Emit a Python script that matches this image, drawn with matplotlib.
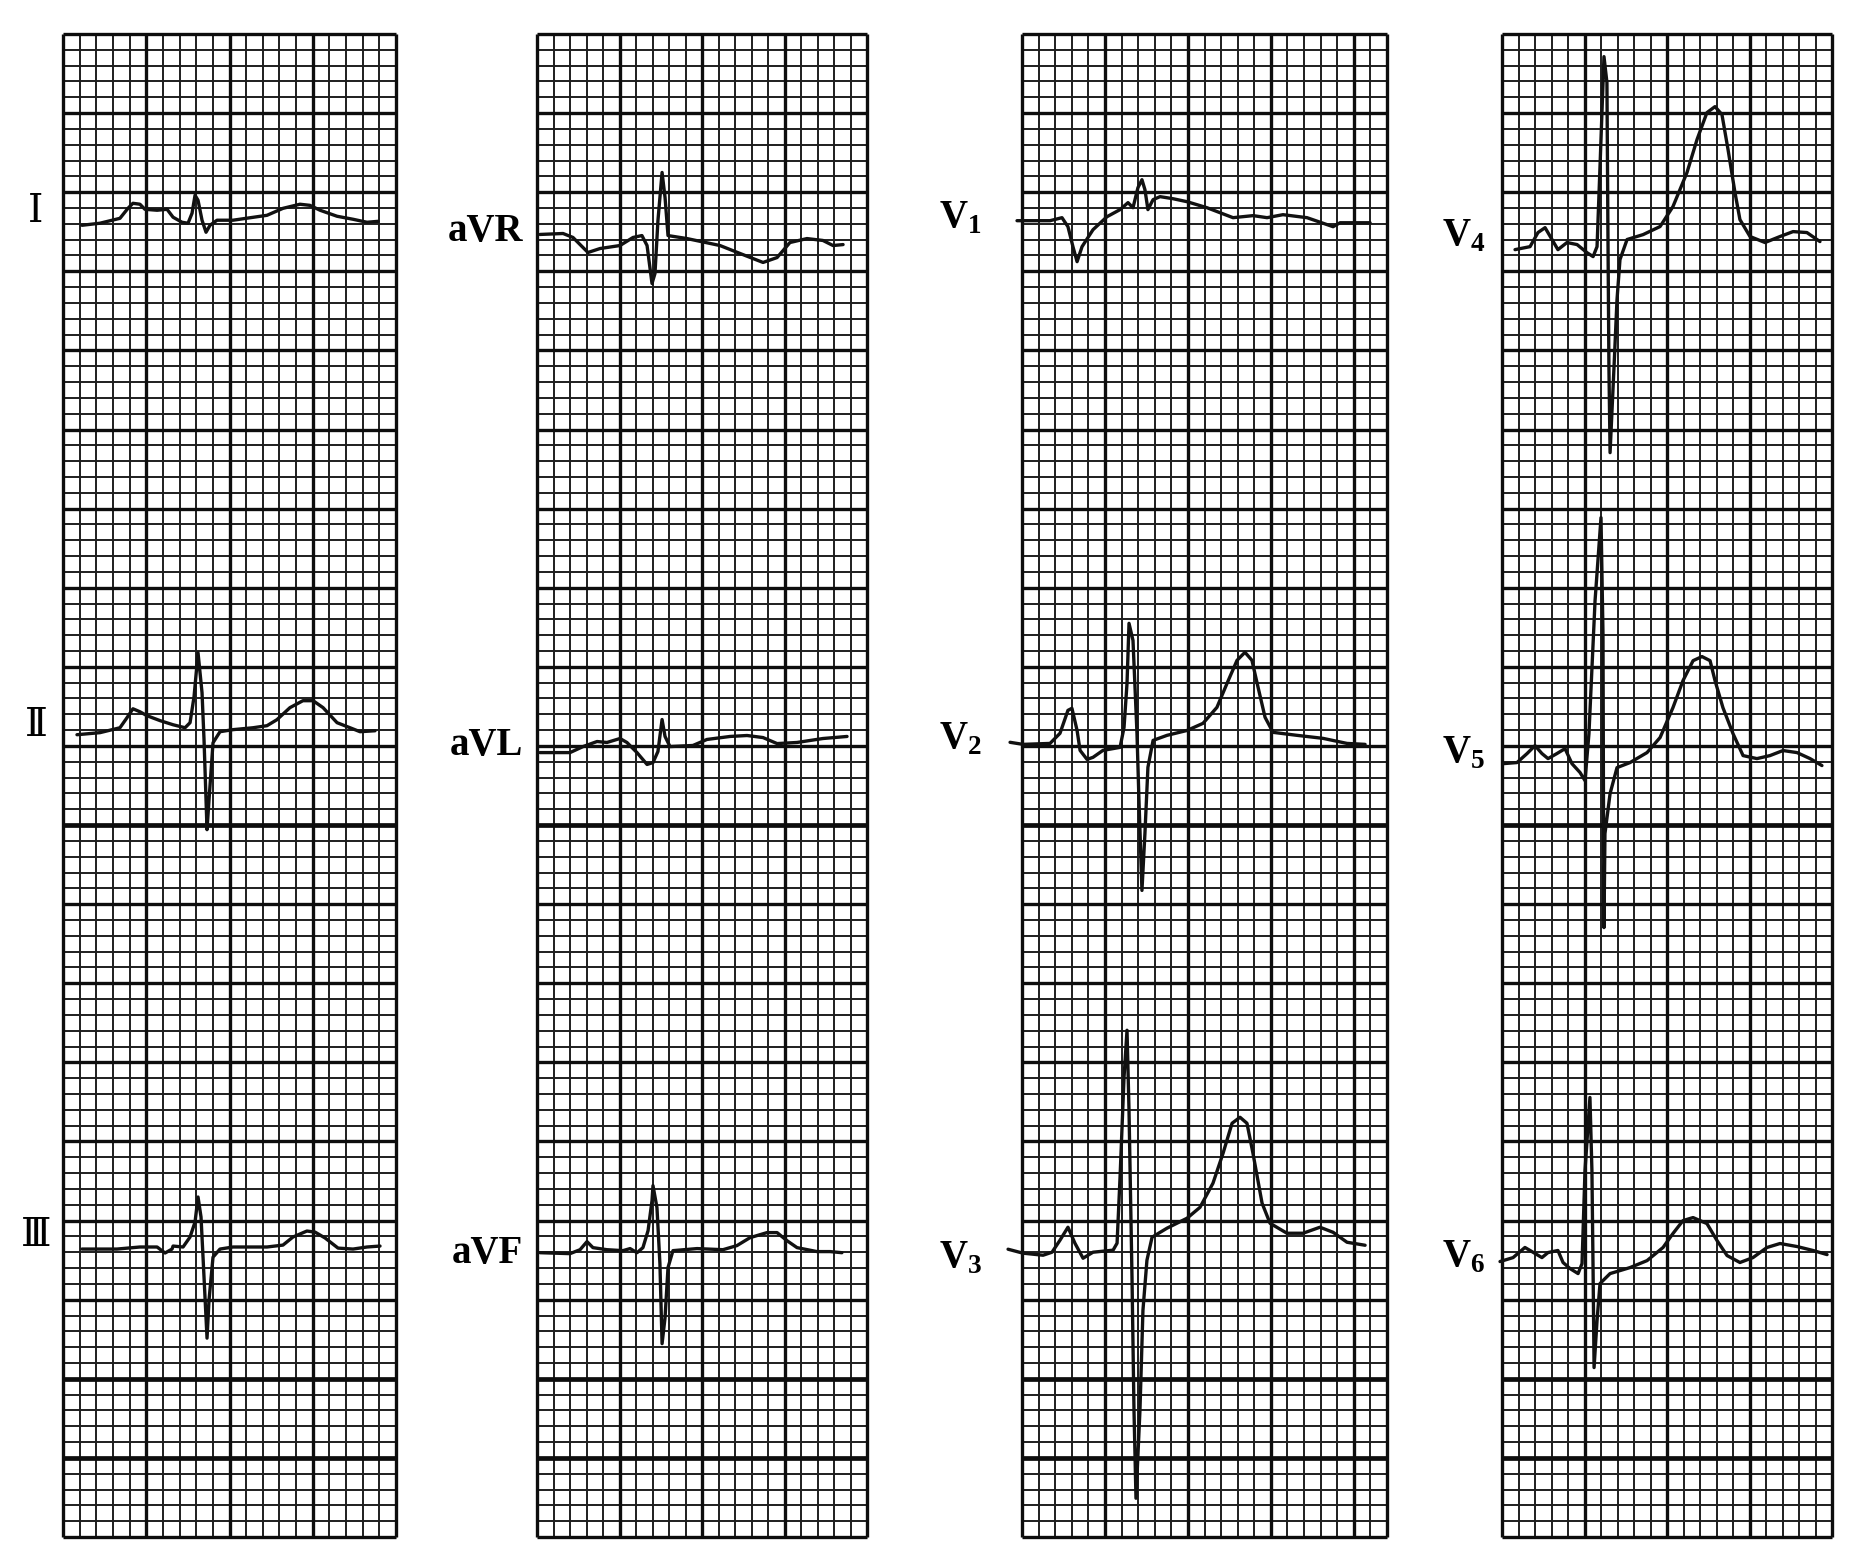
import matplotlib.pyplot as plt

# 12-lead ECG, one beat per lead.
# time in small boxes (1 mm = 0.04 s), amplitude in mm (1 mm = 0.1 mV)

I_T = [1.14, 2.22, 3.42, 3.90, 4.20, 4.62, 4.92, 5.65, 6.25, 6.61, 7.15, 7.51, 7.75, 7.93, 8.11,
       8.35, 8.59, 8.83, 9.25, 10.21, 12.25, 13.21, 14.23, 14.83, 15.44, 16.46, 17.42, 18.26, 18.92]
I_A = [-0.19, -0.06, 0.25, 0.88, 1.20, 1.14, 0.82, 0.76, 0.82, 0.32, 0.0, -0.06, 0.57, 1.71, 1.39,
       0.13, -0.63, -0.19, 0.13, 0.13, 0.44, 0.88, 1.14, 1.07, 0.76, 0.38, 0.19, 0.0, 0.06]

II_T = [0.84, 2.22, 3.42, 3.84, 4.20, 4.62, 5.05, 5.83, 6.61, 7.33, 7.63, 7.87, 8.11, 8.35, 8.47,
        8.65, 8.77, 9.01, 9.43, 10.21, 11.41, 12.25, 12.85, 13.63, 14.41, 15.02, 15.62, 16.46,
        17.24, 17.84, 18.74]
II_A = [-0.19, -0.06, 0.25, 0.88, 1.45, 1.26, 1.01, 0.70, 0.44, 0.25, 0.57, 2.21, 4.99, 2.47, -0.51,
        -6.19, -4.30, -0.70, 0.0, 0.13, 0.25, 0.38, 0.76, 1.52, 1.96, 1.96, 1.52, 0.57,
        0.25, 0.0, 0.06]

III_T = [1.14, 3.24, 4.62, 5.65, 6.13, 6.55, 6.61, 7.21, 7.63, 7.93, 8.11, 8.29, 8.41, 8.65, 8.77,
         9.01, 9.43, 10.21, 12.25, 13.21, 13.81, 14.65, 15.14, 15.74, 16.52, 17.42, 18.26, 19.04]
III_A = [0.0, 0.0, 0.13, 0.13, -0.25, 0.0, 0.19, 0.13, 0.76, 1.71, 3.29, 2.02, -0.51, -5.63, -3.22,
         -0.51, 0.0, 0.13, 0.13, 0.25, 0.76, 1.14, 1.07, 0.70, 0.06, 0.0, 0.13, 0.19]

AVR_T = [0.18, 1.58, 2.18, 3.09, 3.82, 5.03, 5.82, 6.36, 6.67, 6.97, 7.15, 7.33, 7.58, 7.76, 7.94,
         9.09, 11.09, 12.30, 13.70, 14.55, 15.33, 16.36, 17.33, 17.94, 18.55]
AVR_A = [0.13, 0.19, -0.06, -1.01, -0.76, -0.57, -0.06, 0.06, -0.57, -2.97, -2.34, 1.01, 4.05, 2.47, 0.06,
         -0.13, -0.57, -1.07, -1.64, -1.33, -0.38, -0.13, -0.25, -0.57, -0.51]

AVL_T = [0.18, 2.00, 2.79, 3.64, 4.24, 5.03, 5.45, 6.06, 6.67, 7.03, 7.33, 7.58, 7.76, 8.06, 9.45,
         10.30, 11.70, 12.73, 13.70, 14.55, 15.76, 17.33, 18.79]
AVL_A = [-0.32, -0.32, 0.06, 0.38, 0.32, 0.57, 0.32, -0.32, -1.07, -0.95, -0.25, 1.77, 0.70, 0.06, 0.13,
         0.51, 0.70, 0.76, 0.63, 0.25, 0.32, 0.57, 0.70]

AVF_T = [0.18, 2.00, 2.61, 3.03, 3.39, 4.24, 5.21, 5.64, 6.06, 6.42, 6.73, 6.97, 7.03, 7.27, 7.45,
         7.58, 7.76, 7.94, 8.24, 9.70, 11.27, 12.12, 12.91, 13.94, 14.55, 15.15, 15.76, 16.97,
         17.76, 18.48]
AVF_A = [-0.13, -0.19, 0.06, 0.57, 0.19, 0.06, 0.0, 0.13, -0.13, 0.19, 1.26, 3.16, 4.11, 2.72, -0.82,
         -5.88, -4.24, -1.07, 0.0, 0.13, 0.06, 0.32, 0.82, 1.14, 1.14, 0.63, 0.19, -0.06,
         -0.06, -0.13]

V1_T = [-0.30, 1.69, 2.41, 2.77, 3.07, 3.32, 3.62, 4.28, 5.12, 5.91, 6.39, 6.69, 6.99, 7.23, 7.41,
        7.59, 7.90, 8.32, 9.10, 9.95, 11.15, 12.72, 13.93, 14.77, 15.73, 17.18, 18.75, 19.17, 20.98]
V1_A = [0.0, 0.0, 0.19, -0.38, -1.64, -2.59, -1.64, -0.57, 0.25, 0.70, 1.14, 0.82, 2.09, 2.59, 1.96,
        0.70, 1.33, 1.52, 1.39, 1.20, 0.82, 0.19, 0.32, 0.19, 0.38, 0.19, -0.38, -0.13, -0.13]

V2_T = [-0.72, 0.06, 1.69, 2.29, 2.77, 3.01, 3.32, 3.50, 3.92, 4.28, 4.88, 5.91, 6.15, 6.33, 6.45,
        6.69, 6.93, 7.05, 7.23, 7.41, 7.59, 7.90, 8.74, 9.95, 10.91, 11.75, 12.36, 12.96, 13.44,
        13.86, 14.23, 14.65, 15.13, 16.58, 18.14, 19.59, 20.68]
V2_A = [0.13, 0.0, 0.06, 0.70, 2.15, 2.28, 0.88, -0.38, -0.95, -0.82, -0.38, -0.19, 1.07, 3.86, 7.65,
        6.57, 0.70, -3.54, -9.23, -5.62, -1.45, 0.25, 0.57, 0.88, 1.33, 2.34, 3.86, 5.31, 5.82,
        5.31, 3.60, 1.71, 0.76, 0.57, 0.38, 0.06, 0.0]

V3_T = [-0.84, 0.06, 1.27, 1.81, 2.29, 2.77, 3.19, 3.68, 4.28, 5.49, 5.73, 5.91, 6.15, 6.33, 6.45,
        6.63, 6.75, 6.87, 7.11, 7.29, 7.53, 7.84, 8.74, 9.95, 10.73, 11.51, 12.12, 12.66, 13.14,
        13.56, 13.92, 14.47, 14.95, 15.97, 16.94, 17.96, 18.75, 19.59, 20.68]
V3_A = [0.19, -0.06, -0.19, 0.0, 0.76, 1.58, 0.57, -0.38, 0.0, 0.13, 0.57, 4.74, 11.06, 14.03, 8.98,
        -1.58, -9.99, -15.55, -9.99, -3.67, -0.51, 0.95, 1.52, 2.15, 2.84, 4.36, 6.26, 8.15, 8.53,
        8.15, 6.26, 3.10, 1.83, 1.20, 1.20, 1.58, 1.26, 0.63, 0.44]

V4_T = [0.79, 1.70, 2.18, 2.61, 3.03, 3.39, 3.94, 4.55, 5.15, 5.52, 5.76, 5.94, 6.18, 6.36, 6.42,
        6.48, 6.55, 6.79, 6.97, 7.15, 7.58, 8.55, 9.58, 10.36, 11.21, 11.82, 12.42, 12.91, 13.33,
        13.70, 14.12, 14.42, 15.03, 15.94, 16.85, 17.64, 18.48, 19.27]
V4_A = [-0.13, 0.06, 0.95, 1.26, 0.51, -0.13, 0.32, 0.19, -0.32, -0.57, 0.06, 5.12, 12.07, 10.43, 0.95,
        -7.52, -12.96, -7.52, -3.29, -0.76, 0.51, 0.82, 1.33, 2.59, 4.74, 6.83, 8.53, 8.91, 8.41,
        6.19, 3.48, 1.77, 0.70, 0.32, 0.70, 1.01, 0.95, 0.38]

V5_T = [0.06, 0.91, 1.52, 2.00, 2.42, 2.79, 3.33, 3.82, 4.24, 4.73, 5.03, 5.27, 5.64, 6.00, 6.12,
        6.15, 6.18, 6.24, 6.55, 6.97, 7.76, 8.79, 9.58, 10.36, 10.97, 11.58, 12.12, 12.61, 12.91,
        13.39, 14.00, 14.61, 15.45, 16.24, 17.03, 17.88, 18.67, 19.39]
V5_A = [-0.32, -0.25, 0.32, 0.82, 0.32, 0.0, 0.32, 0.63, -0.32, -0.88, -1.39, 1.58, 9.99, 15.23, 7.90,
        -2.65, -10.68, -4.74, -2.21, -0.57, -0.25, 0.38, 1.33, 3.22, 4.93, 6.19, 6.45, 6.19, 4.93,
        3.22, 1.58, 0.19, 0.0, 0.19, 0.51, 0.38, 0.0, -0.44]

V6_T = [-0.12, 0.67, 1.39, 1.70, 2.42, 2.79, 3.39, 3.70, 4.12, 4.61, 4.85, 5.03, 5.33, 5.45, 5.52,
        5.58, 5.76, 5.94, 6.55, 7.76, 8.79, 9.76, 10.36, 10.97, 11.58, 12.42, 13.03, 13.64, 14.42,
        15.21, 16.06, 16.85, 17.88, 18.85, 19.70]
V6_A = [-0.19, 0.06, 0.70, 0.51, 0.06, 0.38, 0.51, -0.25, -0.63, -0.95, -0.32, 5.56, 10.18, 5.56, -0.76,
        -6.89, -3.92, -1.58, -0.95, -0.57, -0.13, 0.70, 1.58, 2.40, 2.59, 2.21, 1.14, 0.19, -0.25,
        0.06, 0.70, 0.95, 0.76, 0.51, 0.25]

LEAD_NAMES = ['I', 'II', 'III', 'aVR', 'aVL', 'aVF', 'V1', 'V2', 'V3', 'V4', 'V5', 'V6']

# ---- layout (pixels of the 1864x1559 image) ----
W, H = 1864, 1559
TOP, BOTTOM = 34, 1537
ROWS = 95                      # small boxes vertically
THICK_ROWS = [45, 10, 5]       # extra heavy lines (mm from bottom)

plt.rcParams['mathtext.fontset'] = 'custom'
plt.rcParams['mathtext.bf'] = 'Liberation Serif:bold'
plt.rcParams['mathtext.rm'] = 'Liberation Serif'

fig = plt.figure(figsize=(W / 100, H / 100), dpi=100)
fig.patch.set_facecolor('white')


def make_panel(left, right, ncols):
    ax = fig.add_axes([left / W, 1 - BOTTOM / H, (right - left) / W, (BOTTOM - TOP) / H])
    ax.set_xlim(0, ncols)
    ax.set_ylim(0, ROWS)
    ax.axis('off')
    small_x = [i for i in range(ncols + 1) if i % 5 and i != ncols]
    major_x = [i for i in range(ncols + 1) if i % 5 == 0 or i == ncols]
    small_y = [j for j in range(ROWS + 1) if j % 5]
    major_y = [j for j in range(ROWS + 1) if j % 5 == 0 and j not in THICK_ROWS]
    ax.vlines(small_x, 0, ROWS, color='#1e1e1e', lw=1.4, zorder=1)
    ax.hlines(small_y, 0, ncols, color='#1e1e1e', lw=1.4, zorder=1)
    ax.vlines(major_x, 0, ROWS, color='#0d0d0d', lw=2.4, zorder=2, clip_on=False)
    ax.hlines(major_y, 0, ncols, color='#0d0d0d', lw=2.4, zorder=2, clip_on=False)
    ax.hlines(THICK_ROWS, 0, ncols, color='#0d0d0d', lw=3.4, zorder=2)
    return ax


def draw_lead(ax, t, a, base):
    ax.plot(t, [base + v for v in a], color='#111111', lw=2.4, zorder=5,
            solid_joinstyle='round', solid_capstyle='round', clip_on=False)


panels = [
    (63, 396, 20, [(I_T, I_A, 83.1), (II_T, II_A, 50.9), (III_T, III_A, 18.2)]),
    (537, 867, 20, [(AVR_T, AVR_A, 82.2), (AVL_T, AVL_A, 49.9), (AVF_T, AVF_A, 18.1)]),
    (1022, 1387, 22, [(V1_T, V1_A, 83.2), (V2_T, V2_A, 50.1), (V3_T, V3_A, 18.0)]),
    (1502, 1832, 20, [(V4_T, V4_A, 81.5), (V5_T, V5_A, 49.2), (V6_T, V6_A, 17.6)]),
]

for left, right, ncols, leads in panels:
    ax = make_panel(left, right, ncols)
    for t, a, base in leads:
        draw_lead(ax, t, a, base)

# ---- lead labels ----
roman = ['\u2160', '\u2161', '\u2162']
for txt, y in zip(roman, [213, 726, 1237]):
    fig.text(36 / W, 1 - y / H, txt, ha='center', va='center', fontsize=28,
             family=['Liberation Serif', 'DejaVu Serif', 'Noto Sans CJK SC'])

for name, y in zip(LEAD_NAMES[3:6], [232, 746, 1254]):
    fig.text(523 / W, 1 - y / H, name, ha='right', va='center', fontsize=28,
             family='Liberation Serif', weight='bold')

for name, x, y in zip(LEAD_NAMES[6:], [939, 939, 939, 1442, 1442, 1442],
                      [217, 738, 1257, 235, 752, 1256]):
    fig.text(x / W, 1 - y / H, r'$\mathbf{V}_\mathbf{%s}$' % name[1], ha='left', va='center',
             fontsize=28)

fig.savefig('out.png', dpi=100, facecolor='white')
